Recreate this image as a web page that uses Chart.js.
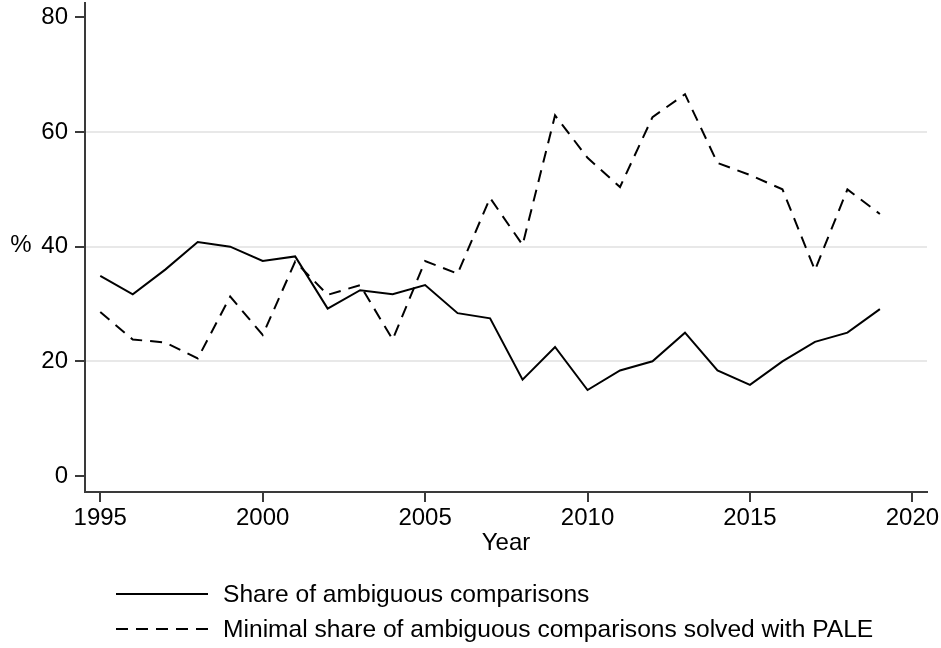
<!DOCTYPE html>
<html>
<head>
<meta charset="utf-8">
<script src="https://cdn.jsdelivr.net/npm/chart.js@4.4.0/dist/chart.umd.min.js"></script>
<style>
  html, body { margin: 0; padding: 0; background: #fff; }
  #wrap { width: 941px; height: 648px; position: relative; }
</style>
</head>
<body>
<div id="wrap"><canvas id="chart" width="941" height="648"></canvas></div>
<script>
// values
const years = [1995, 1996, 1997, 1998, 1999, 2000, 2001, 2002, 2003, 2004, 2005, 2006, 2007,
  2008, 2009, 2010, 2011, 2012, 2013, 2014, 2015, 2016, 2017, 2018, 2019];
const shareAmbiguous = [34.9, 31.7, 36.0, 40.8, 40.0, 37.5, 38.3, 29.2, 32.4, 31.7, 33.3, 28.4, 27.5,
  16.8, 22.5, 15.0, 18.4, 20.0, 25.0, 18.4, 15.9, 20.0, 23.4, 25.0, 29.1];
const solvedWithPale = [28.6, 23.8, 23.3, 20.5, 31.3, 24.6, 37.4, 31.6, 33.3, 23.8, 37.5, 35.3, 48.5,
  40.3, 62.9, 55.5, 50.4, 62.6, 66.6, 54.6, 52.5, 50.0, 35.9, 50.0, 45.7];
const xTicks = [1995, 2000, 2005, 2010, 2015, 2020];
const yTicks = [0, 20, 40, 60, 80];
const seriesLabels = ['Share of ambiguous comparisons', 'Minimal share of ambiguous comparisons solved with PALE'];

const FONT = '"Liberation Sans", Arial, Helvetica, sans-serif';
const AXIS = '#3a3a3a';

// "%" written horizontally left of the y axis, like Stata does
const yTitlePlugin = {
  id: 'yTitle',
  afterDraw(chart) {
    const ctx = chart.ctx;
    const y = chart.scales.y;
    ctx.save();
    ctx.font = '24px ' + FONT;
    ctx.fillStyle = '#000';
    ctx.textAlign = 'center';
    ctx.textBaseline = 'middle';
    ctx.fillText('%', 21, y.getPixelForValue(40) - 1);
    ctx.restore();
  }
};

// two-row legend under the plot, left aligned
const stataLegend = {
  id: 'stataLegend',
  afterDraw(chart) {
    const ctx = chart.ctx;
    const rows = [594, 629];
    ctx.save();
    chart.data.datasets.forEach((ds, i) => {
      const y = rows[i];
      ctx.beginPath();
      ctx.setLineDash(ds.borderDash || []);
      ctx.lineWidth = 2;
      ctx.strokeStyle = ds.borderColor;
      ctx.moveTo(116, y);
      ctx.lineTo(208, y);
      ctx.stroke();
      ctx.setLineDash([]);
      ctx.font = '24.6px ' + FONT;
      ctx.fillStyle = '#000';
      ctx.textAlign = 'left';
      ctx.textBaseline = 'middle';
      ctx.fillText(ds.label, 223, y + 1);
    });
    ctx.restore();
  }
};

const toPoints = (vals) => years.map((yr, i) => ({ x: yr, y: vals[i] }));

new Chart(document.getElementById('chart'), {
  type: 'line',
  data: {
    datasets: [
      {
        label: seriesLabels[0],
        data: toPoints(shareAmbiguous),
        borderColor: '#000',
        borderWidth: 2,
        pointRadius: 0,
        tension: 0
      },
      {
        label: seriesLabels[1],
        data: toPoints(solvedWithPale),
        borderColor: '#000',
        borderWidth: 2,
        borderDash: [12, 8],
        pointRadius: 0,
        tension: 0
      }
    ]
  },
  options: {
    responsive: false,
    animation: false,
    layout: { padding: { left: 0, right: 14, top: 3, bottom: 90 } },
    plugins: {
      legend: { display: false },
      tooltip: { enabled: false }
    },
    scales: {
      x: {
        type: 'linear',
        min: 1994.53,
        max: 2020.45,
        afterBuildTicks: (s) => { s.ticks = xTicks.map(v => ({ value: v })); },
        afterFit: (s) => { s.height = 66; s.paddingLeft = 0; s.paddingRight = 0; },
        border: { display: true, color: AXIS, width: 2 },
        grid: { drawOnChartArea: false, tickLength: 10, tickColor: AXIS, lineWidth: 2 },
        ticks: {
          color: '#000',
          padding: 2,
          maxRotation: 0,
          font: { family: FONT, size: 24 },
          callback: (v) => String(v)
        },
        title: {
          display: true,
          text: 'Year',
          color: '#000',
          padding: { top: 0, bottom: 0 },
          font: { family: FONT, size: 24 }
        }
      },
      y: {
        min: -2.79,
        max: 82.5,
        afterBuildTicks: (s) => { s.ticks = yTicks.map(v => ({ value: v })); },
        afterFit: (s) => { s.width = 85; s.paddingTop = 0; s.paddingBottom = 0; },
        border: { display: true, color: AXIS, width: 2 },
        grid: {
          tickLength: 10,
          tickColor: AXIS,
          lineWidth: 2,
          color: (c) => (c.tick && c.tick.value > 0 && c.tick.value < 80) ? '#e8e8e8' : 'rgba(0,0,0,0)'
        },
        ticks: {
          color: '#000',
          padding: 7,
          font: { family: FONT, size: 24 }
        }
      }
    }
  },
  plugins: [yTitlePlugin, stataLegend]
});
</script>
</body>
</html>
